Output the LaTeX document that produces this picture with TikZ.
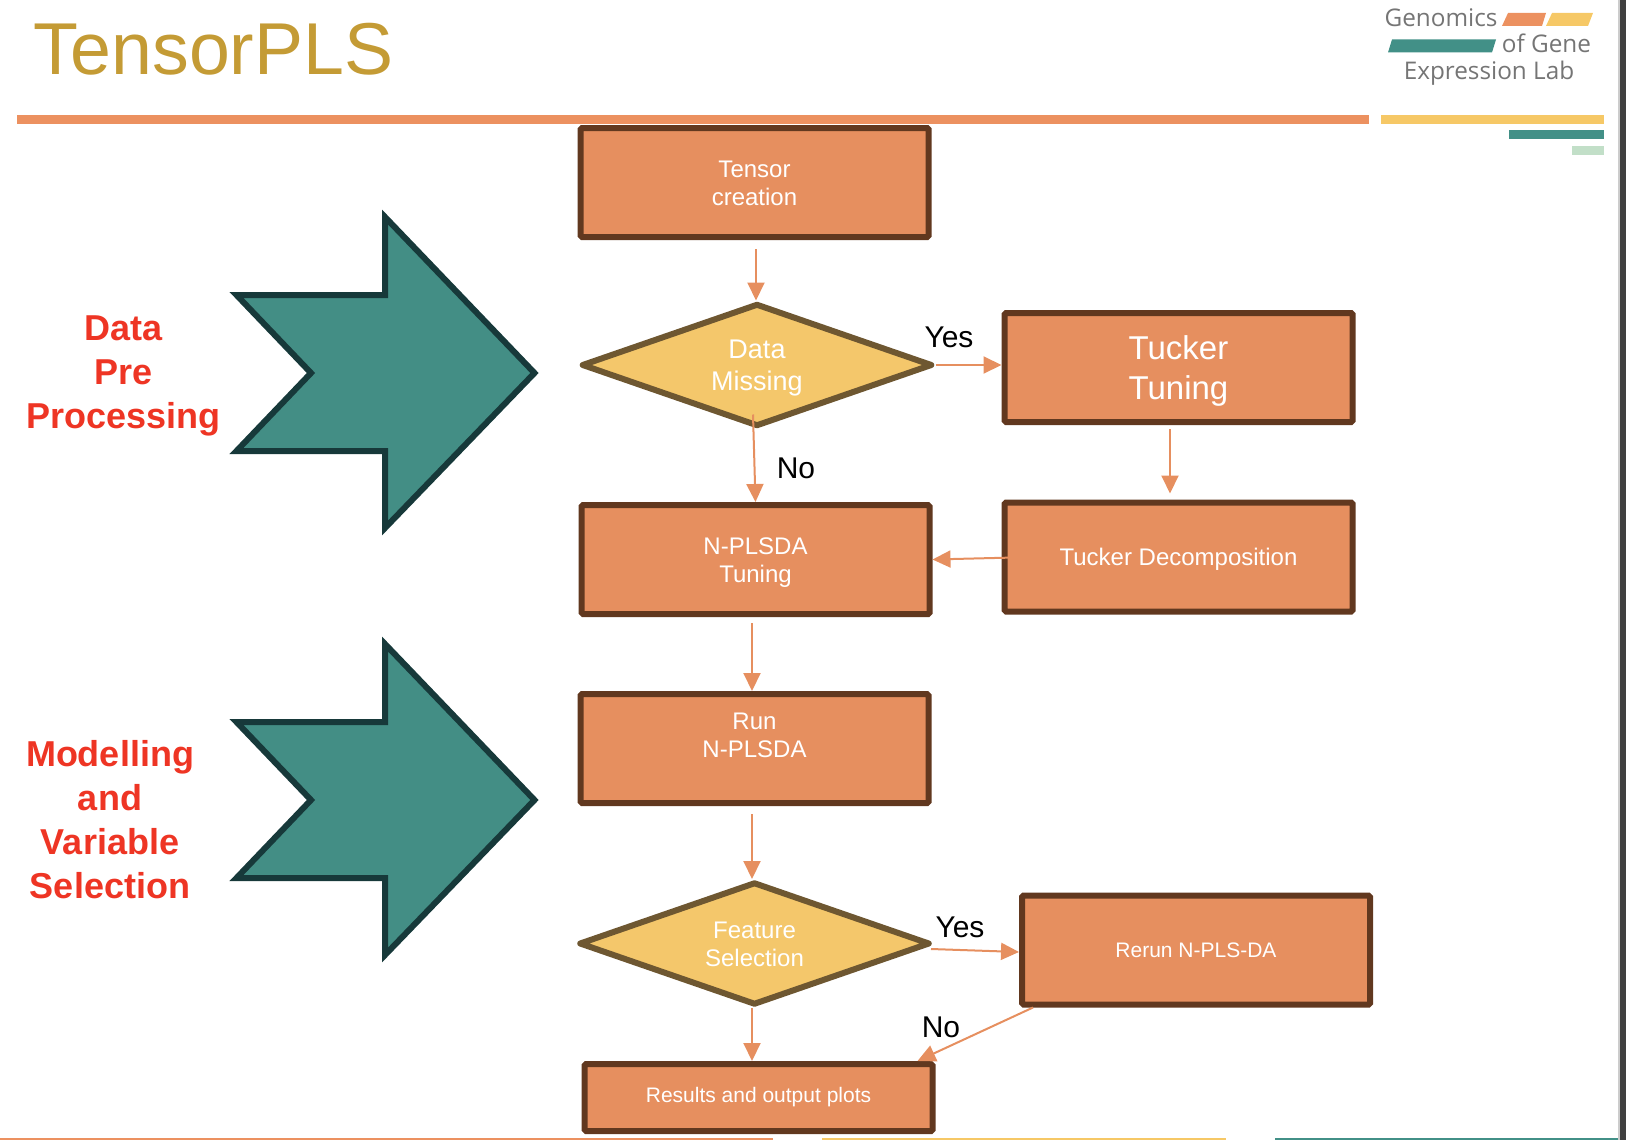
\documentclass[tikz,border=0pt]{standalone}
\usepackage{fontspec}
\setmainfont{Liberation Sans}
\newfontfamily\logofont{Open Sans}
\usetikzlibrary{shapes.geometric,arrows.meta}
\definecolor{boxfill}{HTML}{E68F5F}
\definecolor{boxline}{HTML}{61381F}
\definecolor{dfill}{HTML}{F4C76B}
\definecolor{dline}{HTML}{6E5731}
\definecolor{tealfill}{HTML}{438E85}
\definecolor{tealline}{HTML}{17393A}
\definecolor{barorange}{HTML}{EC9160}
\definecolor{baryellow}{HTML}{F6C866}
\definecolor{barteal}{HTML}{429087}
\definecolor{bargreen}{HTML}{C2DFC8}
\definecolor{titlecol}{HTML}{C49B35}
\definecolor{redtxt}{HTML}{EE3524}
\definecolor{logotxt}{HTML}{757575}
\newcommand{\fs}[2]{\fontsize{#1}{#2}\selectfont}
% text lowered by #1 inside its node, without changing the node's size
\newcommand{\tdown}[2]{\raisebox{-#1}[\height][\depth]{\begin{tabular}{@{}c@{}}#2\end{tabular}}}
\tikzset{
  flowbox/.style={draw=boxline,fill=boxfill,line width=6pt,rounded corners=1.5pt,minimum width=348pt,minimum height=109pt,inner sep=0pt,align=center,text=white},
  decision/.style={draw=dline,fill=dfill,line width=6pt,line join=round,diamond,aspect=2.85,minimum width=351pt,minimum height=123pt,inner sep=0pt,align=center,text=white},
  link/.style={draw=boxfill,line width=2pt,-{Triangle[length=18pt,width=17pt]}},
  yesno/.style={text=black,font=\fs{30}{34},inner sep=0pt},
  sidelabel/.style={text=redtxt,font=\fs{36}{44}\bfseries,align=center,inner sep=0pt},
  logotext/.style={text=logotxt,font=\logofont\fs{24.3}{28},inner sep=0pt,anchor=base},
  bigarrow/.style={draw=tealline,fill=tealfill,line width=6pt,miter limit=10}
}
\begin{document}
\begin{tikzpicture}[x=1pt,y=-1pt]
\useasboundingbox (0,0) rectangle (1626,1140);
% window edge
\fill[black!75] (1619,0) rectangle (1626,1140);
\fill[black!20] (1618,0) rectangle (1620,1140);
% header
\node[text=titlecol,font=\fs{73.5}{80},anchor=base west,inner sep=0pt] (title) at (33.5,75) {TensorPLS};
\fill[barorange] (17,115) rectangle (1369,124);
\fill[baryellow] (1381,115) rectangle (1604,124);
\fill[barteal] (1509,130) rectangle (1604,139);
\fill[bargreen] (1572,146) rectangle (1604,155);
\fill[barorange] (0,1138) rectangle (773,1140);
\fill[baryellow] (822,1138) rectangle (1226,1140);
\fill[barteal] (1275,1138) rectangle (1618,1140);
% logo
\node[logotext] (lg1) at (1441,26.5) {Genomics};
\node[logotext] (lg2) at (1546.5,53) {of Gene};
\node[logotext] (lg3) at (1489,80) {Expression Lab};
\fill[barorange] (1502,26) -- (1508,13) -- (1546,13) -- (1542,26) -- cycle;
\fill[baryellow] (1546,26) -- (1552,13) -- (1593,13) -- (1588,26) -- cycle;
\fill[barteal] (1388,52.5) -- (1392,39.5) -- (1496,39.5) -- (1492,52.5) -- cycle;
% big arrows
\foreach \dy in {0,427}{
  \draw[bigarrow,yshift=-\dy pt] (534.5,373) -- (385,217) -- (385,295) -- (236.5,295) -- (311,373) -- (236.5,451) -- (385,451) -- (385,528) -- cycle;
}
% side labels
\node[sidelabel] (prep) at (123.5,376) {Data\\Pre\\Processing};
\node[sidelabel] (model) at (110,820) {Modelling\\and\\Variable\\Selection};
% flow nodes
\node[flowbox,font=\fs{24}{28}] (tensor) at (754.5,182.5) {\tdown{3pt}{Tensor\\creation}};
\node[decision,font=\fs{27}{32}] (missing) at (757,365) {\tdown{3pt}{Data\\Missing}};
\node[flowbox,font=\fs{33}{40}] (tuning) at (1178.5,367.5) {\tdown{4pt}{Tucker\\Tuning}};
\node[flowbox,font=\fs{24}{28}] (decomp) at (1178.5,557) {\tdown{3pt}{Tucker Decomposition}};
\node[flowbox,font=\fs{24}{28}] (nplstune) at (755.5,559.5) {\tdown{3pt}{N-PLSDA\\Tuning}};
\node[flowbox,font=\fs{24}{28}] (run) at (754.5,748.5) {\tdown{-10.5pt}{Run\\N-PLSDA}};
\node[decision,font=\fs{24}{28}] (feature) at (754.5,943.5) {\tdown{3pt}{Feature\\Selection}};
\node[flowbox,font=\fs{21}{25}] (rerun) at (1196,950) {\tdown{2pt}{Rerun N-PLS-DA}};
\node[flowbox,font=\fs{21}{25},minimum height=67pt] (results) at (758.5,1097.5) {Results and output plots};
% connector labels
\node[yesno] (yes1) at (949,337) {Yes};
\node[yesno] (no1) at (796,468) {No};
\node[yesno] (yes2) at (960,927) {Yes};
\node[yesno] (no2) at (941,1027) {No};
% connectors
\draw[link] ([xshift=1.5pt,yshift=-9pt]tensor.south) -- ([xshift=-1pt]missing.north);
\draw[link] ([xshift=-4pt,yshift=15pt]missing.south) -- (nplstune.north);
\draw[link] (missing.east) -- ([yshift=2.5pt]tuning.west);
\draw[link] ([xshift=-8.5pt,yshift=-4pt]tuning.south) -- ([xshift=-8.5pt,yshift=6pt]decomp.north);
\draw[link] ([xshift=34pt]decomp.west) -- (nplstune.east);
\draw[link] ([xshift=-3.5pt,yshift=-6pt]nplstune.south) -- ([xshift=-2.5pt]run.north);
\draw[link] ([xshift=-2.5pt,yshift=-8pt]run.south) -- ([xshift=-2.5pt]feature.north);
\draw[link] ([xshift=-2pt,yshift=-5.5pt]feature.east) -- ([yshift=-2pt]rerun.west);
\draw[link] ([xshift=-2.5pt]feature.south) -- ([xshift=-6.5pt]results.north);
\draw[link] ([xshift=14pt,yshift=0pt]rerun.south west) -- ([xshift=-18pt]results.north east);
\end{tikzpicture}
\end{document}
